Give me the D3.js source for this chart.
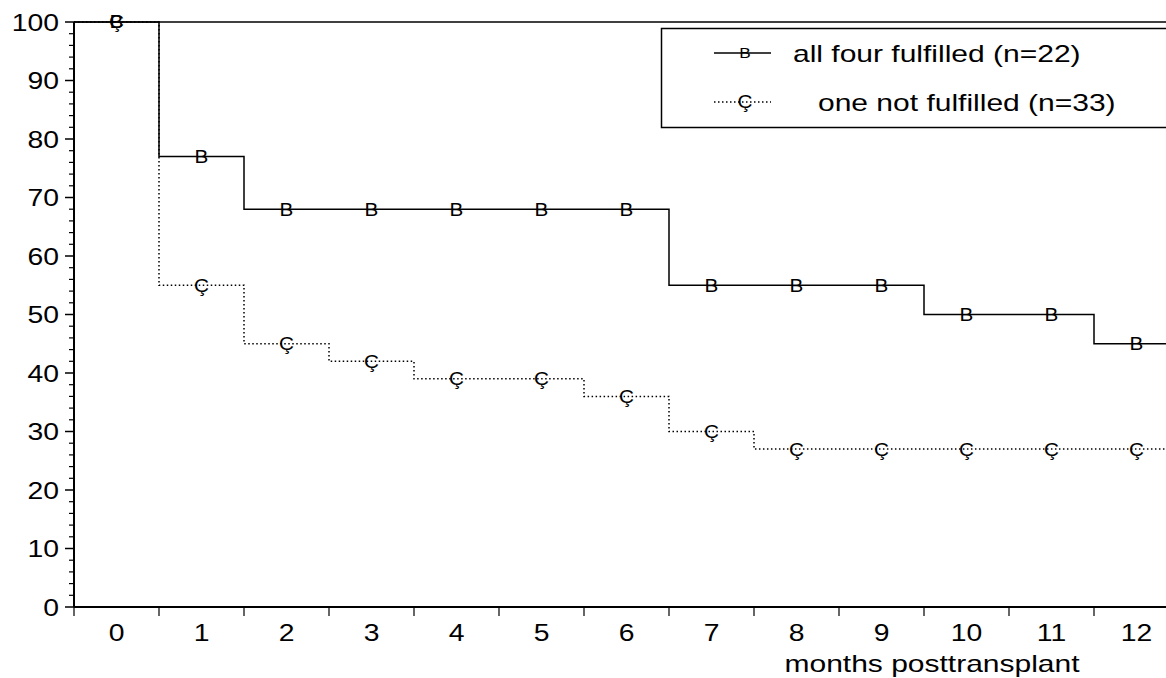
<!DOCTYPE html>
<html>
<head>
<meta charset="utf-8">
<script src="https://cdn.jsdelivr.net/npm/d3@7"></script>
<style>
  body { margin: 0; background: #fff; }
  svg { display: block; font-family: Arial, "Liberation Sans", sans-serif; }
</style>
</head>
<body>
<svg id="chart" width="1166" height="678"></svg>
<script>
// months after transplant
var months = [0, 1, 2, 3, 4, 5, 6, 7, 8, 9, 10, 11, 12];
// survival (%) per month
var allFour = [100, 77, 68, 68, 68, 68, 68, 55, 55, 55, 50, 50, 45];
var oneNot  = [100, 55, 45, 42, 39, 39, 36, 30, 27, 27, 27, 27, 27];
var yTicks = [0, 10, 20, 30, 40, 50, 60, 70, 80, 90, 100];
var seriesNames = ['all four fulfilled (n=22)', 'one not fulfilled (n=33)'];
var xTitle = 'months posttransplant';

var svg = d3.select('#chart');
var plotLeft = 74, plotTop = 22, plotBottom = 607, band = 85;
var stretch = 1.18; // the original font is drawn a bit wide

var x = d3.scaleBand()
  .domain(months)
  .range([plotLeft, plotLeft + months.length * band])
  .paddingInner(0).paddingOuter(0);

var y = d3.scaleLinear()
  .domain([0, 100])
  .range([plotBottom, plotTop]);

// text helper: place at (tx,ty) and widen horizontally
function wideText(sel, tx, ty, size, sx) {
  return sel.attr('transform', (d, i) => `translate(${tx(d, i)},${ty(d, i)}) scale(${sx || stretch},1)`)
    .style('font-size', size + 'px');
}

// frame top line
svg.append('line')
  .attr('x1', plotLeft).attr('x2', 1166)
  .attr('y1', plotTop).attr('y2', plotTop)
  .attr('stroke', '#000').attr('stroke-width', 1.5);

// y axis with minor ticks
var yAxis = svg.append('g').attr('transform', `translate(${plotLeft},0)`);
yAxis.append('line')
  .attr('x1', 0).attr('x2', 0).attr('y1', plotTop).attr('y2', plotBottom)
  .attr('stroke', '#000').attr('stroke-width', 2);
yAxis.selectAll('.minor')
  .data(d3.range(0, 101, 2).filter(d => d % 10 != 0))
  .enter().append('line')
  .attr('x1', -5).attr('x2', 0)
  .attr('y1', d => y(d)).attr('y2', d => y(d))
  .attr('stroke', '#000').attr('stroke-width', 1.2);
yAxis.selectAll('.major')
  .data(yTicks)
  .enter().append('line')
  .attr('x1', -9).attr('x2', 0)
  .attr('y1', d => y(d)).attr('y2', d => y(d))
  .attr('stroke', '#000').attr('stroke-width', 1.5);
wideText(yAxis.selectAll('text')
  .data(yTicks)
  .enter().append('text'), d => -15, d => y(d), 24)
  .attr('dy', '0.36em')
  .attr('text-anchor', 'end')
  .text(d => d);

// x axis
var xAxis = svg.append('g');
xAxis.append('line')
  .attr('x1', plotLeft).attr('x2', 1166).attr('y1', plotBottom).attr('y2', plotBottom)
  .attr('stroke', '#000').attr('stroke-width', 2);
xAxis.selectAll('.tick')
  .data(months)
  .enter().append('line')
  .attr('x1', d => x(d)).attr('x2', d => x(d))
  .attr('y1', plotBottom).attr('y2', plotBottom + 9)
  .attr('stroke', '#000').attr('stroke-width', 1.2);
wideText(xAxis.selectAll('text')
  .data(months)
  .enter().append('text'), d => x(d) + x.bandwidth() / 2, d => plotBottom + 34, 24)
  .attr('text-anchor', 'middle')
  .text(d => d);
wideText(svg.append('text').datum(xTitle), d => 932, d => 672, 24, 1.25)
  .attr('text-anchor', 'middle')
  .text(d => d);

// step line: horizontal over each month band, vertical at the borders
function stepPath(vals) {
  var pts = [];
  months.forEach(function(m, i) {
    pts.push([x(m), y(vals[i])]);
    pts.push([x(m) + x.bandwidth(), y(vals[i])]);
  });
  return d3.line()(pts);
}

var series = [
  { vals: allFour, dash: null, mark: 'B' },
  { vals: oneNot, dash: '1.5,2.5', mark: 'Ç' }
];

// draw dotted first so the solid one sits on top at 100
series.slice().reverse().forEach(function(s) {
  svg.append('path')
    .attr('d', stepPath(s.vals))
    .attr('fill', 'none')
    .attr('stroke', '#000')
    .attr('stroke-width', 1.5)
    .attr('stroke-dasharray', s.dash);
  wideText(svg.append('g').selectAll('text')
    .data(months)
    .enter().append('text'), d => x(d) + x.bandwidth() / 2, (d, i) => y(s.vals[i]), 18, 1.15)
    .attr('dy', '0.36em')
    .attr('text-anchor', 'middle')
    .text(s.mark);
});

// legend
var lg = svg.append('g');
lg.append('rect')
  .attr('x', 661.5).attr('y', 28.5)
  .attr('width', 520).attr('height', 99)
  .attr('fill', '#fff').attr('stroke', '#000').attr('stroke-width', 1.5);
var legendRows = [53, 102];
var legendTextX = [793, 818];
series.forEach(function(s, i) {
  var ly = legendRows[i];
  lg.append('line')
    .attr('x1', 714).attr('x2', 771)
    .attr('y1', ly).attr('y2', ly)
    .attr('stroke', '#000').attr('stroke-width', 1.3)
    .attr('stroke-dasharray', s.dash);
  wideText(lg.append('text').datum(s.mark), d => 745, d => ly, i == 0 ? 15 : 18, 1.15)
    .attr('dy', '0.36em')
    .attr('text-anchor', 'middle')
    .text(d => d);
  wideText(lg.append('text').datum(seriesNames[i]), d => legendTextX[i], d => ly, 24, 1.25)
    .attr('dy', '0.36em')
    .text(d => d);
});
</script>
</body>
</html>
